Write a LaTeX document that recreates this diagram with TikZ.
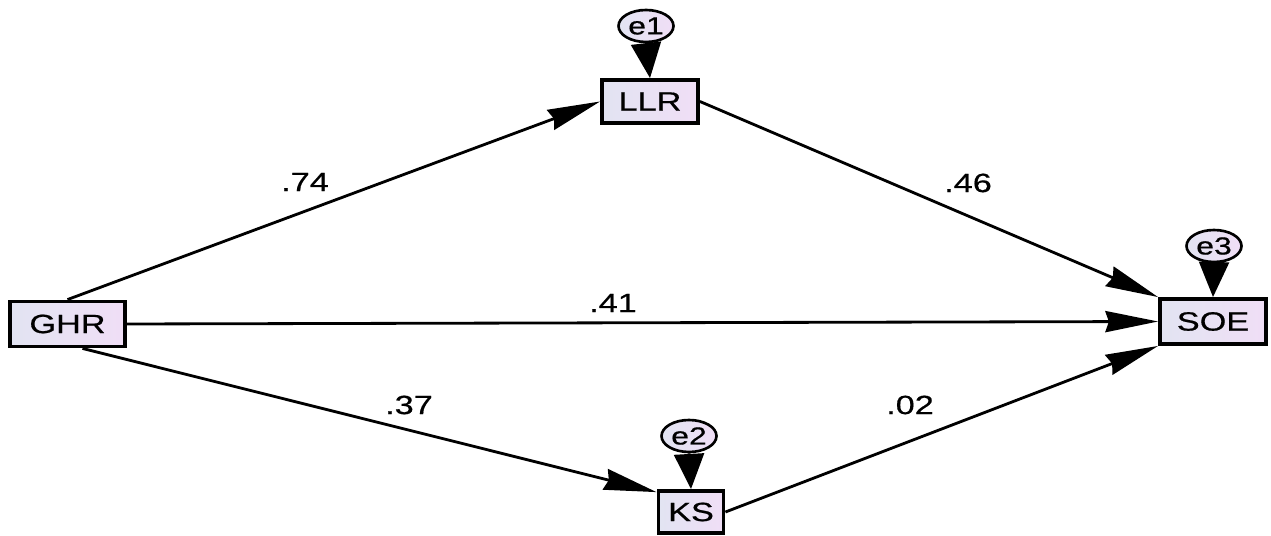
\documentclass[tikz,border=0pt]{standalone}
\usepackage{fontspec}
\setmainfont{Liberation Sans}[FakeStretch=1.3, FakeBold=0.6]
\usetikzlibrary{arrows.meta,shapes.geometric}
\definecolor{boxleft}{RGB}{226,228,242}
\definecolor{boxright}{RGB}{240,222,246}
\begin{document}
\begin{tikzpicture}[x=0.02cm,y=-0.02cm,
    font=\fontsize{15pt}{18pt}\selectfont,
    var/.style={rectangle, draw, line width=2.2pt, left color=boxleft, right color=boxright, inner sep=0pt},
    err/.style={ellipse, draw, line width=1.5pt, left color=boxleft, right color=boxright, inner sep=-1.5pt, minimum width=1.1cm, minimum height=0.64cm, font=\fontsize{14pt}{16pt}\selectfont},
    path/.style={line width=1.6pt, -{Stealth[length=30pt, width=12pt, inset=2pt]}},
    res/.style={line width=1.6pt, -{Triangle[length=20pt, width=17pt]}},
    coef/.style={inner sep=1pt}]
        \useasboundingbox (0,0) rectangle (1271,536);

        \node[var, minimum width=2.3cm, minimum height=0.9cm] (ghr) at (67.5, 324) {GHR};
        \node[var, minimum width=1.92cm, minimum height=0.86cm] (llr) at (650, 101.5) {LLR};
        \node[var, minimum width=1.3cm, minimum height=0.84cm] (ks) at (691, 512) {KS};
        \node[var, minimum width=2.12cm, minimum height=0.9cm] (soe) at (1213, 321.5) {SOE};

        \node[err] (e1) at (646, 26) {e1};
        \node[err] (e2) at (689, 436) {e2};
        \node[err] (e3) at (1214, 246) {e3};

        \draw[res] (e1.south) -- (llr.north);
        \draw[res] (e2.south) -- (ks.north);
        \draw[res] (e3.south) -- (soe.north);

        \draw[path] (ghr.north) -- (llr.west);
        \draw[path] (llr.east) -- (soe.north west);
        \draw[path] (ghr.east) -- (soe.west);
        \draw[path] ([xshift=0.3cm]ghr.south) -- (ks.150);
        \draw[path] (ks.east) -- (soe.south west);

        \node[coef] (c74) at (305, 182) {.74};
        \node[coef] (c46) at (968, 183) {.46};
        \node[coef] (c41) at (613, 303) {.41};
        \node[coef] (c37) at (409, 405) {.37};
        \node[coef] (c02) at (910, 405) {.02};

    \end{tikzpicture}
\end{document}
